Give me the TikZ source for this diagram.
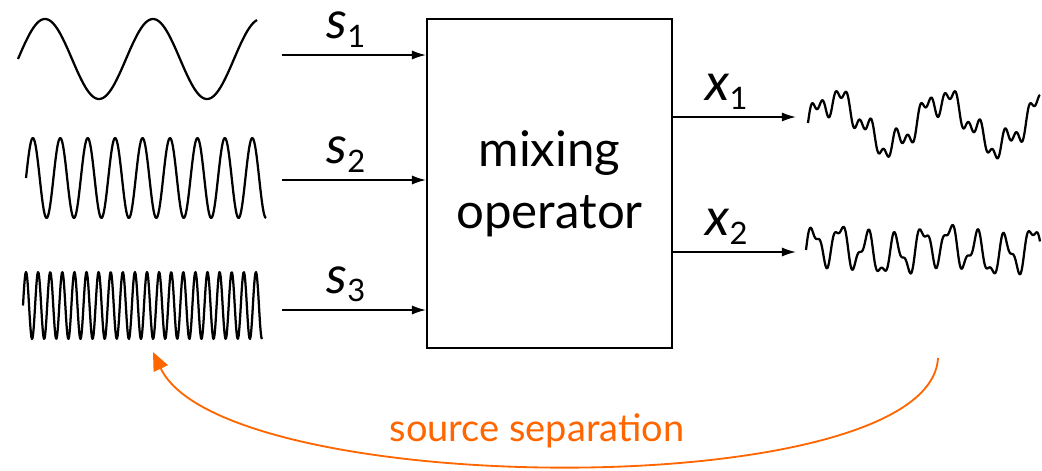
\documentclass[tikz,border=0pt]{standalone}
\usepackage{fontspec}
\setmainfont{Lato}
\usetikzlibrary{arrows.meta,positioning}
\definecolor{seporange}{RGB}{255,102,0}
\newcommand{\sublbl}[2]{{\fontsize{37}{40}\selectfont\itshape #1}\raisebox{-6pt}{\fontsize{22}{24}\selectfont #2}}

\begin{document}
\begin{tikzpicture}[x=0.025cm, y=-0.025cm, >={Latex[length=10pt,width=6.5pt]}, wave/.style={line width=1.6pt, line join=round}, sig/.style={->, line width=1.2pt}, lbl/.style={above=5pt, inner sep=0pt, xshift=-0.2cm}]
\useasboundingbox (0,0) rectangle (1042,470);
\node[draw, line width=1.3pt, minimum width=6.125cm, minimum height=8.225cm, align=center, font=\fontsize{35}{44}\selectfont] (mix) at (549.5,183.5) {mixing\\operator};
% sources
\draw[wave] plot[domain=18:257, samples=200] (\x, {59-40*sin((\x-18)/108*360)});
\draw[wave] plot[domain=26:266, samples=300] (\x, {178-40*sin((\x-26)/27.43*360)});
\draw[wave] plot[domain=23:262, samples=400] (\x, {305.5-33.5*sin((\x-23)/12.1*360)});
% mixtures
\draw[wave] plot[domain=808:1040, samples=400] (\x, {123-24*sin((\x-808)/108*360)-10*sin((\x-808)/27.43*360)-7*sin((\x-808)/12.1*360)});
\draw[wave] plot[domain=806:1040, samples=400] (\x, {250-7*sin((\x-806)/108*360)-18*sin((\x-806)/27.43*360)-7*sin((\x-806)/12.1*360)});
\coordinate (s1out) at (282,55);
\coordinate (s2out) at (282,180);
\coordinate (s3out) at (282,310);
\coordinate (x1in) at (796,117);
\coordinate (x2in) at (796,252);
\draw[sig] (s1out) -- node[lbl] {\sublbl{s}{1}} (s1out -| mix.west);
\draw[sig] (s2out) -- node[lbl] {\sublbl{s}{2}} (s2out -| mix.west);
\draw[sig] (s3out) -- node[lbl] {\sublbl{s}{3}} (s3out -| mix.west);
\draw[sig] (mix.east |- x1in) -- node[lbl] {\sublbl{x}{1}} (x1in);
\draw[sig] (mix.east |- x2in) -- node[lbl] {\sublbl{x}{2}} (x2in);
% separation
\coordinate (sepfrom) at (938,358);
\coordinate (septo) at (153,352);
\draw[-{Triangle[length=13pt,width=11pt]}, line width=1.3pt, seporange] (sepfrom) .. controls (930,505) and (223,500) .. (septo);
\node[text=seporange, font=\fontsize{27}{29}\selectfont] (sep) at (537,431) {source separation};
\end{tikzpicture}
\end{document}
